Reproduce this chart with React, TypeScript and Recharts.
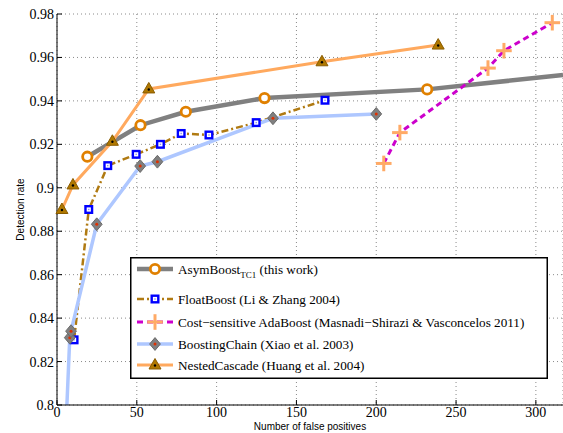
import React from 'react';
import { LineChart, Line, XAxis, YAxis, CartesianGrid, Legend } from 'recharts';

// ---------- data ----------
const xTicks = [0, 50, 100, 150, 200, 250, 300];
const yTicks = [0.8, 0.82, 0.84, 0.86, 0.88, 0.9, 0.92, 0.94, 0.96, 0.98];

// AsymBoost_TC1 (last point is the line continuing past the right edge, no marker)
const asymX = [19, 52.3, 80.7, 130, 231.9, 317];
const asymY = [0.9143, 0.9288, 0.935, 0.9413, 0.9453, 0.9519];
const asymMarked = [true, true, true, true, true, false];

const floatX = [10.7, 19.9, 31.8, 49.6, 64.8, 77.8, 95.2, 124.8, 167.9];
const floatY = [0.83, 0.89, 0.9102, 0.9154, 0.92, 0.925, 0.9243, 0.93, 0.9403];

const costX = [204.7, 214.8, 270, 280, 310.3];
const costY = [0.9112, 0.9254, 0.9551, 0.9631, 0.976];

// BoostingChain (first point is where the line enters from the bottom, no marker)
const chainX = [6.2, 8, 8.8, 24.9, 52.1, 62.9, 135.3, 200];
const chainY = [0.8, 0.831, 0.834, 0.8832, 0.91, 0.912, 0.932, 0.934];
const chainMarked = [false, true, true, true, true, true, true, true];

const nestedX = [3.1, 10, 34.7, 57.5, 166, 238.8];
const nestedY = [0.89, 0.9013, 0.9214, 0.9455, 0.958, 0.9657];

const seriesNames = [
  'AsymBoost',
  'FloatBoost (Li & Zhang 2004)',
  'Cost\u2212sensitive AdaBoost (Masnadi\u2212Shirazi & Vasconcelos 2011)',
  'BoostingChain (Xiao et al. 2003)',
  'NestedCascade (Huang et al. 2004)',
];

const build = (xs: number[], ys: number[], marked?: boolean[]) =>
  xs.map((x, i) => ({ x, y: ys[i], m: marked ? marked[i] : true }));

const asymData = build(asymX, asymY, asymMarked);
const floatData = build(floatX, floatY);
const costData = build(costX, costY);
const chainData = build(chainX, chainY, chainMarked);
const nestedData = build(nestedX, nestedY);

// ---------- styles ----------
const SERIF = "'Liberation Serif', 'Times New Roman', Times, serif";
const SANS = "'Liberation Sans', Arial, Helvetica, sans-serif";

const C_ASYM = '#808080';
const C_CIRCLE = '#E08000';
const C_FLOAT = '#B07A12';
const C_SQUARE = '#0000FF';
const C_COST = '#CC00CC';
const C_PLUS = '#FFAA66';
const C_CHAIN = '#AEC7FF';
const C_NESTED = '#FFA95E';
const C_TRI = '#B07800';

// ---------- markers ----------
const CircleM = ({ cx, cy }: any) => (
  <circle cx={cx} cy={cy} r={4.7} fill="#fff" stroke={C_CIRCLE} strokeWidth={2.8} />
);
const SquareM = ({ cx, cy }: any) => (
  <g>
    <rect x={cx - 3.3} y={cy - 3.3} width={6.6} height={6.6} fill="#fff" stroke={C_SQUARE} strokeWidth={2.4} />
    <rect x={cx - 0.7} y={cy - 0.7} width={1.4} height={1.4} fill="#8888ff" />
  </g>
);
const PlusM = ({ cx, cy }: any) => (
  <g stroke={C_PLUS} strokeWidth={3}>
    <line x1={cx - 7.8} y1={cy} x2={cx + 7.8} y2={cy} />
    <line x1={cx} y1={cy - 7.8} x2={cx} y2={cy + 7.8} />
  </g>
);
const DiamondM = ({ cx, cy }: any) => (
  <g>
    <polygon
      points={`${cx},${cy - 6.4} ${cx + 5.4},${cy} ${cx},${cy + 6.4} ${cx - 5.4},${cy}`}
      fill="#808080"
      stroke="#6a6a6a"
      strokeWidth={1}
    />
    <circle cx={cx} cy={cy} r={1.5} fill="#E03000" />
  </g>
);
const TriangleM = ({ cx, cy }: any) => (
  <g>
    <polygon
      points={`${cx},${cy - 6.5} ${cx + 6},${cy + 4} ${cx - 6},${cy + 4}`}
      fill={C_TRI}
      stroke="#8A5C00"
      strokeWidth={1}
    />
    <circle cx={cx} cy={cy + 0.5} r={1.2} fill="#000" />
  </g>
);

const dotFor = (M: any) => (props: any) => {
  const { cx, cy, index, payload } = props;
  if (!payload || !payload.m) return <g key={`d${index}`} />;
  return <M key={`d${index}`} cx={cx} cy={cy} />;
};

// ---------- legend ----------
const legendRows = [
  { y: 12, stroke: C_ASYM, width: 4.5, dash: undefined, M: CircleM },
  { y: 42, stroke: C_FLOAT, width: 2.5, dash: '7 3 2 3', M: SquareM },
  { y: 65, stroke: C_COST, width: 3, dash: '6 4', M: PlusM },
  { y: 87, stroke: C_CHAIN, width: 3.5, dash: undefined, M: DiamondM },
  { y: 108, stroke: C_NESTED, width: 3, dash: undefined, M: TriangleM },
];

const LegendBox = () => (
  <svg width={418} height={122} style={{ display: 'block' }}>
    <rect x={0.75} y={0.75} width={416.5} height={120.5} fill="#fff" stroke="#000" strokeWidth={1.5} />
    {legendRows.map((r, i) => (
      <g key={i}>
        <line x1={7} y1={r.y} x2={43} y2={r.y} stroke={r.stroke} strokeWidth={r.width} strokeDasharray={r.dash} />
        <r.M cx={25} cy={r.y} />
        <text x={48} y={r.y + 4.5} fontFamily={SERIF} fontSize={13.2} fill="#000">
          {seriesNames[i]}
          {i === 0 && (
            <>
              <tspan dy={4} fontSize={9}>TC1</tspan>
              <tspan dy={-4}> (this work)</tspan>
            </>
          )}
        </text>
      </g>
    ))}
  </svg>
);

// ---------- chart ----------
export default function App() {
  return (
    <div style={{ position: 'absolute', left: 0, top: 0, background: '#fff' }}>
      <LineChart width={563} height={433} margin={{ top: 14, right: 0, bottom: 0, left: 0 }}>
        <CartesianGrid stroke="#8a8a8a" strokeDasharray="1 3" strokeWidth={1} />
        <XAxis
          type="number"
          dataKey="x"
          domain={[0, 317]}
          ticks={xTicks}
          height={28}
          tickSize={-5}
          tickMargin={7}
          axisLine={{ stroke: '#000', strokeWidth: 1 }}
          tickLine={{ stroke: '#000' }}
          tick={{ fontFamily: SERIF, fontSize: 14, fill: '#000' }}
          interval={0}
          label={{
            value: 'Number of false positives',
            position: 'insideBottom',
            offset: 3,
            fontSize: 10,
            fontFamily: SANS,
            fill: '#000',
          }}
        />
        <YAxis
          type="number"
          domain={[0.8, 0.98]}
          ticks={yTicks}
          width={57}
          tickSize={-5}
          tickMargin={8}
          interval={0}
          allowDataOverflow
          axisLine={{ stroke: '#000', strokeWidth: 1 }}
          tickLine={{ stroke: '#000' }}
          tick={{ fontFamily: SERIF, fontSize: 14, fill: '#000' }}
          tickFormatter={(v: number) => String(v)}
          label={{
            content: (p: any) => {
              const vb = p.viewBox || { x: 0, y: 14, width: 57, height: 391 };
              const cx = vb.x + 23.5;
              const cy = vb.y + vb.height / 2;
              return (
                <text
                  x={cx}
                  y={cy}
                  transform={`rotate(-90 ${cx} ${cy})`}
                  textAnchor="middle"
                  fontSize={10}
                  fontFamily={SANS}
                  fill="#000"
                >
                  Detection rate
                </text>
              );
            },
          }}
        />
        <Line
          data={asymData}
          dataKey="y"
          stroke={C_ASYM}
          strokeWidth={4.5}
          dot={dotFor(CircleM)}
          activeDot={false}
          isAnimationActive={false}
        />
        <Line
          data={floatData}
          dataKey="y"
          stroke={C_FLOAT}
          strokeWidth={2.5}
          strokeDasharray="7 3 2 3"
          dot={dotFor(SquareM)}
          activeDot={false}
          isAnimationActive={false}
        />
        <Line
          data={costData}
          dataKey="y"
          stroke={C_COST}
          strokeWidth={3}
          strokeDasharray="6 4"
          dot={dotFor(PlusM)}
          activeDot={false}
          isAnimationActive={false}
        />
        <Line
          data={chainData}
          dataKey="y"
          stroke={C_CHAIN}
          strokeWidth={3.5}
          dot={dotFor(DiamondM)}
          activeDot={false}
          isAnimationActive={false}
        />
        <Line
          data={nestedData}
          dataKey="y"
          stroke={C_NESTED}
          strokeWidth={3}
          dot={dotFor(TriangleM)}
          activeDot={false}
          isAnimationActive={false}
        />
        <Legend
          layout="vertical"
          align="center"
          verticalAlign="middle"
          content={() => <LegendBox />}
          wrapperStyle={{ position: 'absolute', left: 130, top: 257, width: 418, height: 122 }}
        />
      </LineChart>
    </div>
  );
}
